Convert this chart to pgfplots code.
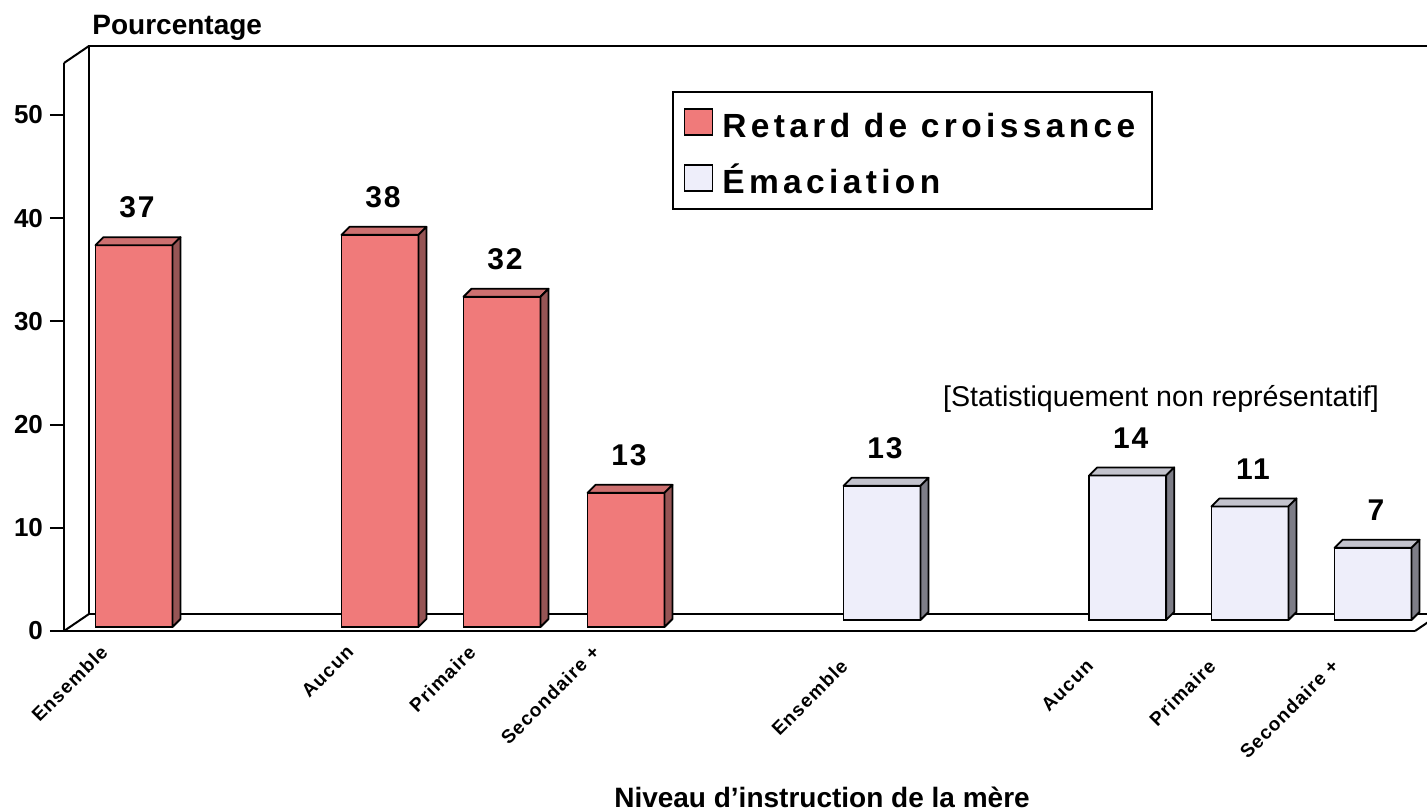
\documentclass[border=0pt]{standalone}
\usepackage{pgfplots}
\usepackage{pgfplotstable}
\pgfplotsset{compat=1.18}
\usepackage{fontspec}
\setmainfont{Liberation Sans}
\newfontfamily\spaced[LetterSpace=13]{Liberation Sans}
\newfontfamily\spacedsmall[LetterSpace=6]{Liberation Sans}
\newfontfamily\spacedval[LetterSpace=6]{Liberation Sans}

\definecolor{redface}{RGB}{240,122,122}
\definecolor{redtop}{RGB}{205,112,112}
\definecolor{redside}{RGB}{150,85,85}
\definecolor{lavface}{RGB}{238,238,250}
\definecolor{lavtop}{RGB}{195,195,205}
\definecolor{lavside}{RGB}{125,125,135}

\pgfplotstableread{
x y
0 37
1.985 38
2.970 32
3.971 13
}\retard
\pgfplotstableread{
x y
6.037 13
8.02 14
9.007 11
10.0 7
}\emac

\def\unity{5.15988}
\pgfplotsset{
  faces/.style 2 args={
    scatter, only marks, mark=*, mark size=0pt,
    mark options={draw opacity=0, fill opacity=0},
    forget plot,
    visualization depends on={rawy \as \ry},
    scatter/@pre marker code/.code={%
      \pgfmathsetmacro\hneg{-\ry*\unity}%
      \pgfmathsetmacro\hb{4-\ry*\unity}%
      \filldraw[fill=#1, draw=black, draw opacity=1, fill opacity=1, line width=0.9pt, line join=round]
        (-19.25pt,0pt) -- (19.25pt,0pt) -- (23.25pt,4pt) -- (-15.25pt,4pt) -- cycle;
      \filldraw[fill=#2, draw=black, draw opacity=1, fill opacity=1, line width=0.9pt, line join=round]
        (19.25pt,0pt) -- (23.25pt,4pt) -- (23.25pt,\hb pt) -- (19.25pt,\hneg pt) -- cycle;
    },
    scatter/@post marker code/.code={},
  },
  valstyle/.style={
    nodes near coords={\pgfmathprintnumber{\pgfplotspointmeta}},
    every node near coord/.append style={font=\spacedval\bfseries\fontsize{15}{18}\selectfont,
      anchor=south, inner sep=0pt, yshift=13pt, xshift=1.5pt, text=black},
  },
}

\begin{document}
\begin{tikzpicture}
\path[use as bounding box] (0,0) rectangle (713.5pt,406pt);
\clip (0,0) rectangle (713.5pt,406pt);
% 3D frame
\draw[line width=1pt, black] (44.5pt,99pt) -- (720pt,99pt);
\draw[line width=1pt, black] (44.5pt,99pt) -- (44.5pt,383pt) -- (720pt,383pt);
\draw[line width=1pt, black] (32pt,90.5pt) -- (44.5pt,99pt);
\draw[line width=1pt, black] (32pt,374.5pt) -- (44.5pt,383pt);
\draw[line width=1pt, black] (707.5pt,90.5pt) -- (720pt,99pt);

\begin{axis}[
  at={(32pt,90.5pt)}, anchor=south west,
  scale only axis, width=675.5pt, height=284pt,
  xmin=-0.565, xmax=10.339, ymin=0, ymax=55.04,
  clip=false,
  axis x line*=bottom, axis y line*=left,
  axis line style={line width=1pt, black, -},
  ytick={0,10,20,30,40,50},
  tick align=outside, major tick length=7pt,
  ytick style={line width=1pt, black},
  xtick={0,1.985,2.970,3.971},
  xticklabels={Ensemble,Aucun,Primaire,Secondaire +},
  extra x ticks={6.037,8.02,9.007,10.0},
  extra x tick labels={Ensemble,Aucun,Primaire,Secondaire +},
  x tick style={draw=none},
  extra x tick style={
    tick style={draw=none},
    every x tick label/.style={xshift=-16.5pt, yshift=-6.5pt, font=\spacedsmall\bfseries\fontsize{9.5}{11}\selectfont, rotate=45, anchor=east}},
  yticklabel style={font=\bfseries\fontsize{13}{15}\selectfont},
  xticklabel style={xshift=-12.5pt, yshift=0.5pt, font=\spacedsmall\bfseries\fontsize{9.5}{11}\selectfont, rotate=45, anchor=east},
  /pgf/number format/assume math mode=true,
  legend style={at={(0.45,0.9507)}, anchor=north west, draw=black, line width=0.8pt, fill=white,
    font=\spaced\bfseries\fontsize{16.75}{20}\selectfont, inner xsep=5.5pt, inner ysep=3pt, row sep=3.5pt,
    nodes={inner xsep=3pt, inner ysep=0pt, text height=20pt, text depth=4.5pt},
    /tikz/every odd column/.append style={column sep=1.5pt}},
  legend cell align=left,
]
\addlegendimage{legend image code/.code={\draw[fill=redface,draw=black,line width=0.8pt] (0pt,-6.5pt) rectangle (14pt,6.5pt);}}
\addlegendentry{Retard de croissance}
\addlegendimage{legend image code/.code={\draw[fill=lavface,draw=black,line width=0.8pt] (0pt,-6.5pt) rectangle (14pt,6.5pt);}}
\addlegendentry{Émaciation}

\addplot[ybar, bar width=38.5pt, bar shift=0pt, fill=redface, draw=black, line width=0.9pt,
  yshift=2pt, forget plot, valstyle] table[x=x,y=y]{\retard};
\addplot[faces={redtop}{redside}, yshift=2pt] table[x=x,y=y]{\retard};

\addplot[ybar, bar width=38.5pt, bar shift=0pt, fill=lavface, draw=black, line width=0.9pt,
  yshift=5.5pt, forget plot, valstyle] table[x=x,y=y]{\emac};
\addplot[faces={lavtop}{lavside}, yshift=5.5pt] table[x=x,y=y]{\emac};
\end{axis}

\node[anchor=base west, inner sep=0pt, font=\bfseries\fontsize{14}{16}\selectfont] at (46pt,388.5pt) {Pourcentage};
\node[anchor=base, inner sep=0pt, font=\bfseries\fontsize{14}{16}\selectfont] at (411pt,2pt) {Niveau d’instruction de la mère};
\node[anchor=base, inner sep=0pt, font=\fontsize{14.3}{17}\selectfont] at (580.5pt,202.5pt) {[Statistiquement non représentatif]};
\end{tikzpicture}
\end{document}
